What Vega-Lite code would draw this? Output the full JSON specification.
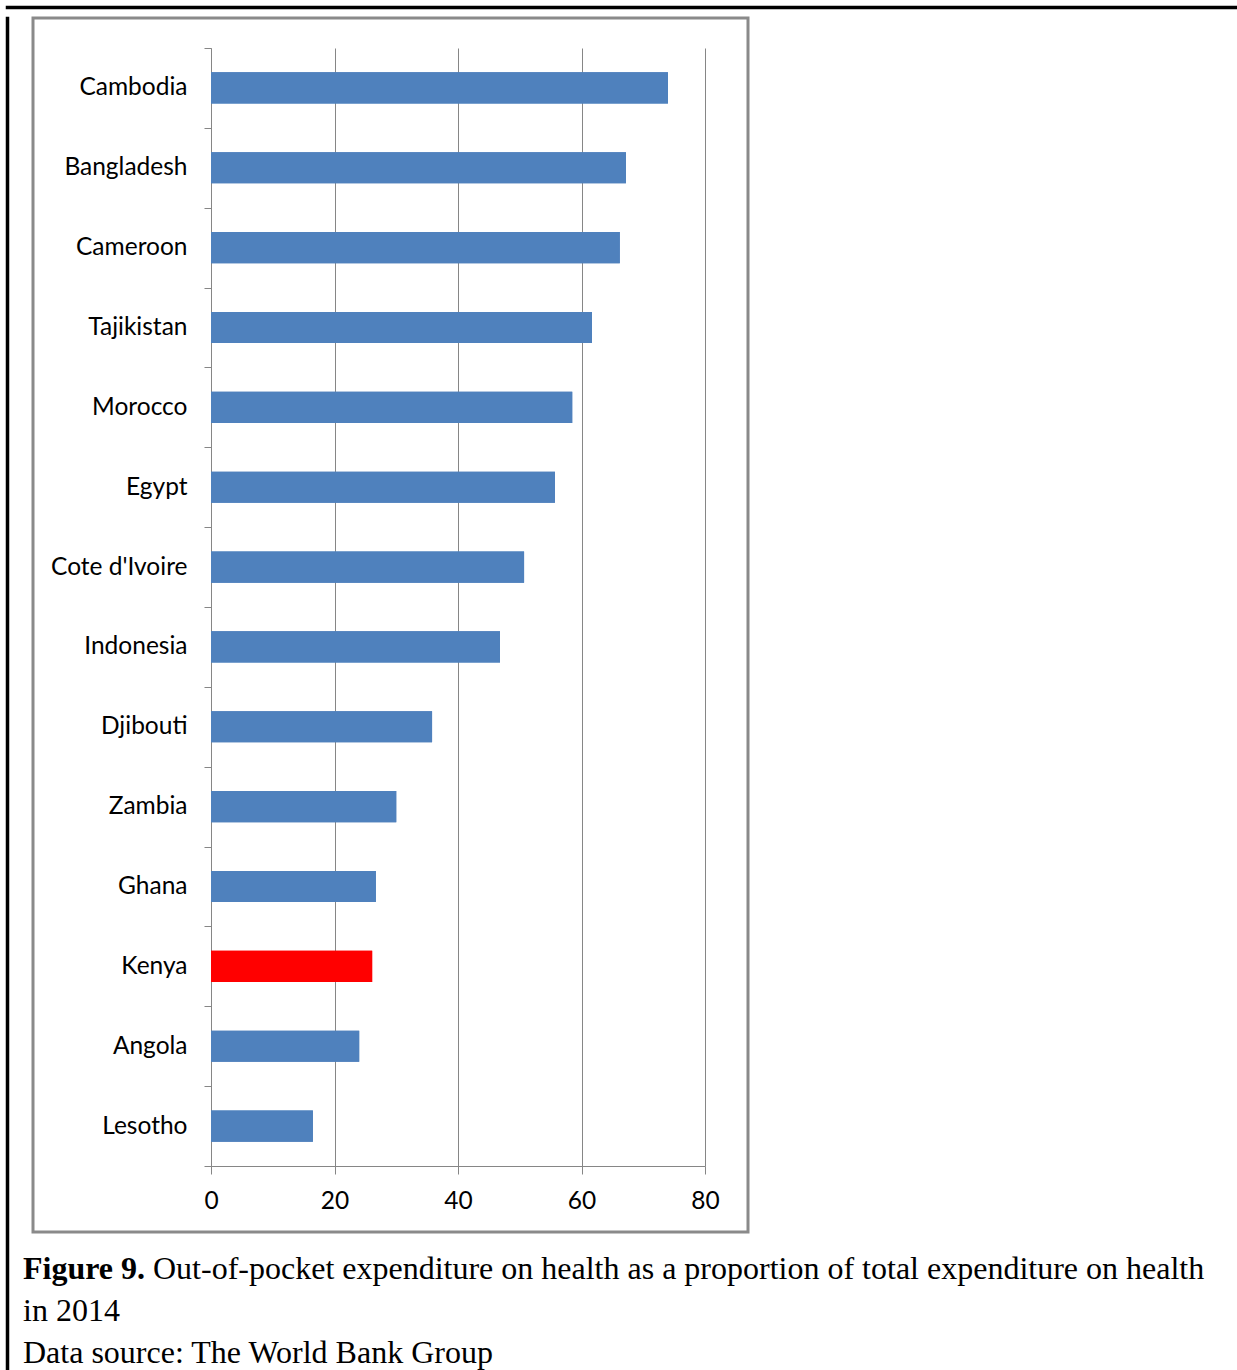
{
  "$schema": "https://vega.github.io/schema/vega-lite/v6.json",
  "background": "white",
  "padding": {"left": 5, "top": 3, "right": 0, "bottom": 0},
  "bounds": "flush",
  "spacing": 10,
  "vconcat": [
    {
      "width": 1229,
      "height": 1,
      "view": {"stroke": "black", "strokeWidth": 2.5},
      "data": {"values": []},
      "mark": "rect",
      "encoding": {}
    },
    {
      "bounds": "flush",
      "spacing": 25,
      "hconcat": [
        {
          "width": 1,
          "height": 1352,
          "view": {"stroke": "black", "strokeWidth": 2.5},
          "data": {"values": []},
          "mark": "rect",
          "encoding": {}
        },
        {
          "bounds": "flush",
          "spacing": 37,
          "vconcat": [
            {
              "width": 715,
              "height": 1214,
              "view": {"stroke": "#8a8a8a", "strokeWidth": 3},
              "data": {
                "values": [
                  {"country": "Cambodia", "value": 74.0},
                  {"country": "Bangladesh", "value": 67.2},
                  {"country": "Cameroon", "value": 66.2},
                  {"country": "Tajikistan", "value": 61.7},
                  {"country": "Morocco", "value": 58.5},
                  {"country": "Egypt", "value": 55.7},
                  {"country": "Cote d'Ivoire", "value": 50.7},
                  {"country": "Indonesia", "value": 46.8},
                  {"country": "Djibouti", "value": 35.8},
                  {"country": "Zambia", "value": 30.0},
                  {"country": "Ghana", "value": 26.7},
                  {"country": "Kenya", "value": 26.1},
                  {"country": "Angola", "value": 24.0},
                  {"country": "Lesotho", "value": 16.5}
                ]
              },
              "encoding": {
                "y": {
                  "field": "country",
                  "type": "nominal",
                  "sort": null,
                  "scale": {"range": [30, 1148], "paddingInner": 0, "paddingOuter": 0},
                  "axis": {
                    "title": null,
                    "offset": -178,
                    "tickBand": "extent",
                    "grid": false,
                    "domainColor": "#868686",
                    "tickColor": "#868686",
                    "tickSize": 7,
                    "labelFont": "Lato",
                    "labelFontSize": 24.5,
                    "labelColor": "black",
                    "labelPadding": 17
                  }
                },
                "color": {
                  "condition": {"test": "datum.country === 'Kenya'", "value": "#FF0000"},
                  "value": "#4F81BD"
                }
              },
              "layer": [
                {
                  "mark": {"type": "bar", "height": {"band": 0.39}},
                  "encoding": {
                    "x": {
                      "field": "value",
                      "type": "quantitative",
                      "scale": {"domain": [0, 80], "range": [178, 672], "nice": false},
                      "axis": {
                        "orient": "top",
                        "title": null,
                        "values": [0, 20, 40, 60, 80],
                        "grid": true,
                        "gridColor": "#868686",
                        "domain": false,
                        "ticks": false,
                        "labels": false
                      }
                    }
                  }
                },
                {
                  "mark": {"type": "bar", "height": {"band": 0.39}},
                  "encoding": {
                    "x": {
                      "field": "value",
                      "type": "quantitative",
                      "scale": {"domain": [0, 80], "range": [178, 672], "nice": false},
                      "axis": {
                        "orient": "bottom",
                        "title": null,
                        "offset": -66,
                        "values": [0, 20, 40, 60, 80],
                        "grid": false,
                        "domainColor": "#868686",
                        "tickColor": "#868686",
                        "tickSize": 8,
                        "labelFont": "Lato",
                        "labelFontSize": 24.5,
                        "labelColor": "black",
                        "labelPadding": 15,
                        "labelFlush": false
                      }
                    }
                  }
                }
              ],
              "resolve": {"axis": {"x": "independent"}}
            },
            {
              "width": 1180,
              "height": 84,
              "view": {"stroke": null},
              "data": {
                "values": [
                  {"line": 1, "part": "bold", "text": "Figure 9."},
                  {"line": 1, "part": "rest", "text": "Out-of-pocket expenditure on health as a proportion of total expenditure on health"},
                  {"line": 2, "part": "plain", "text": "in 2014"},
                  {"line": 3, "part": "plain", "text": "Data source: The World Bank Group"}
                ]
              },
              "encoding": {
                "y": {"field": "line", "type": "ordinal", "axis": null, "scale": {"type": "point", "padding": 0}},
                "text": {"field": "text"}
              },
              "layer": [
                {
                  "transform": [{"filter": "datum.part === 'bold'"}],
                  "mark": {"type": "text", "align": "left", "baseline": "middle", "font": "Liberation Serif", "fontSize": 32, "fontWeight": "bold", "color": "black", "x": 0, "dx": -10}
                },
                {
                  "transform": [{"filter": "datum.part === 'rest'"}],
                  "mark": {"type": "text", "align": "left", "baseline": "middle", "font": "Liberation Serif", "fontSize": 32, "color": "black", "x": 0, "dx": 120}
                },
                {
                  "transform": [{"filter": "datum.part === 'plain'"}],
                  "mark": {"type": "text", "align": "left", "baseline": "middle", "font": "Liberation Serif", "fontSize": 32, "color": "black", "x": 0, "dx": -10}
                }
              ]
            }
          ]
        }
      ]
    }
  ]
}
